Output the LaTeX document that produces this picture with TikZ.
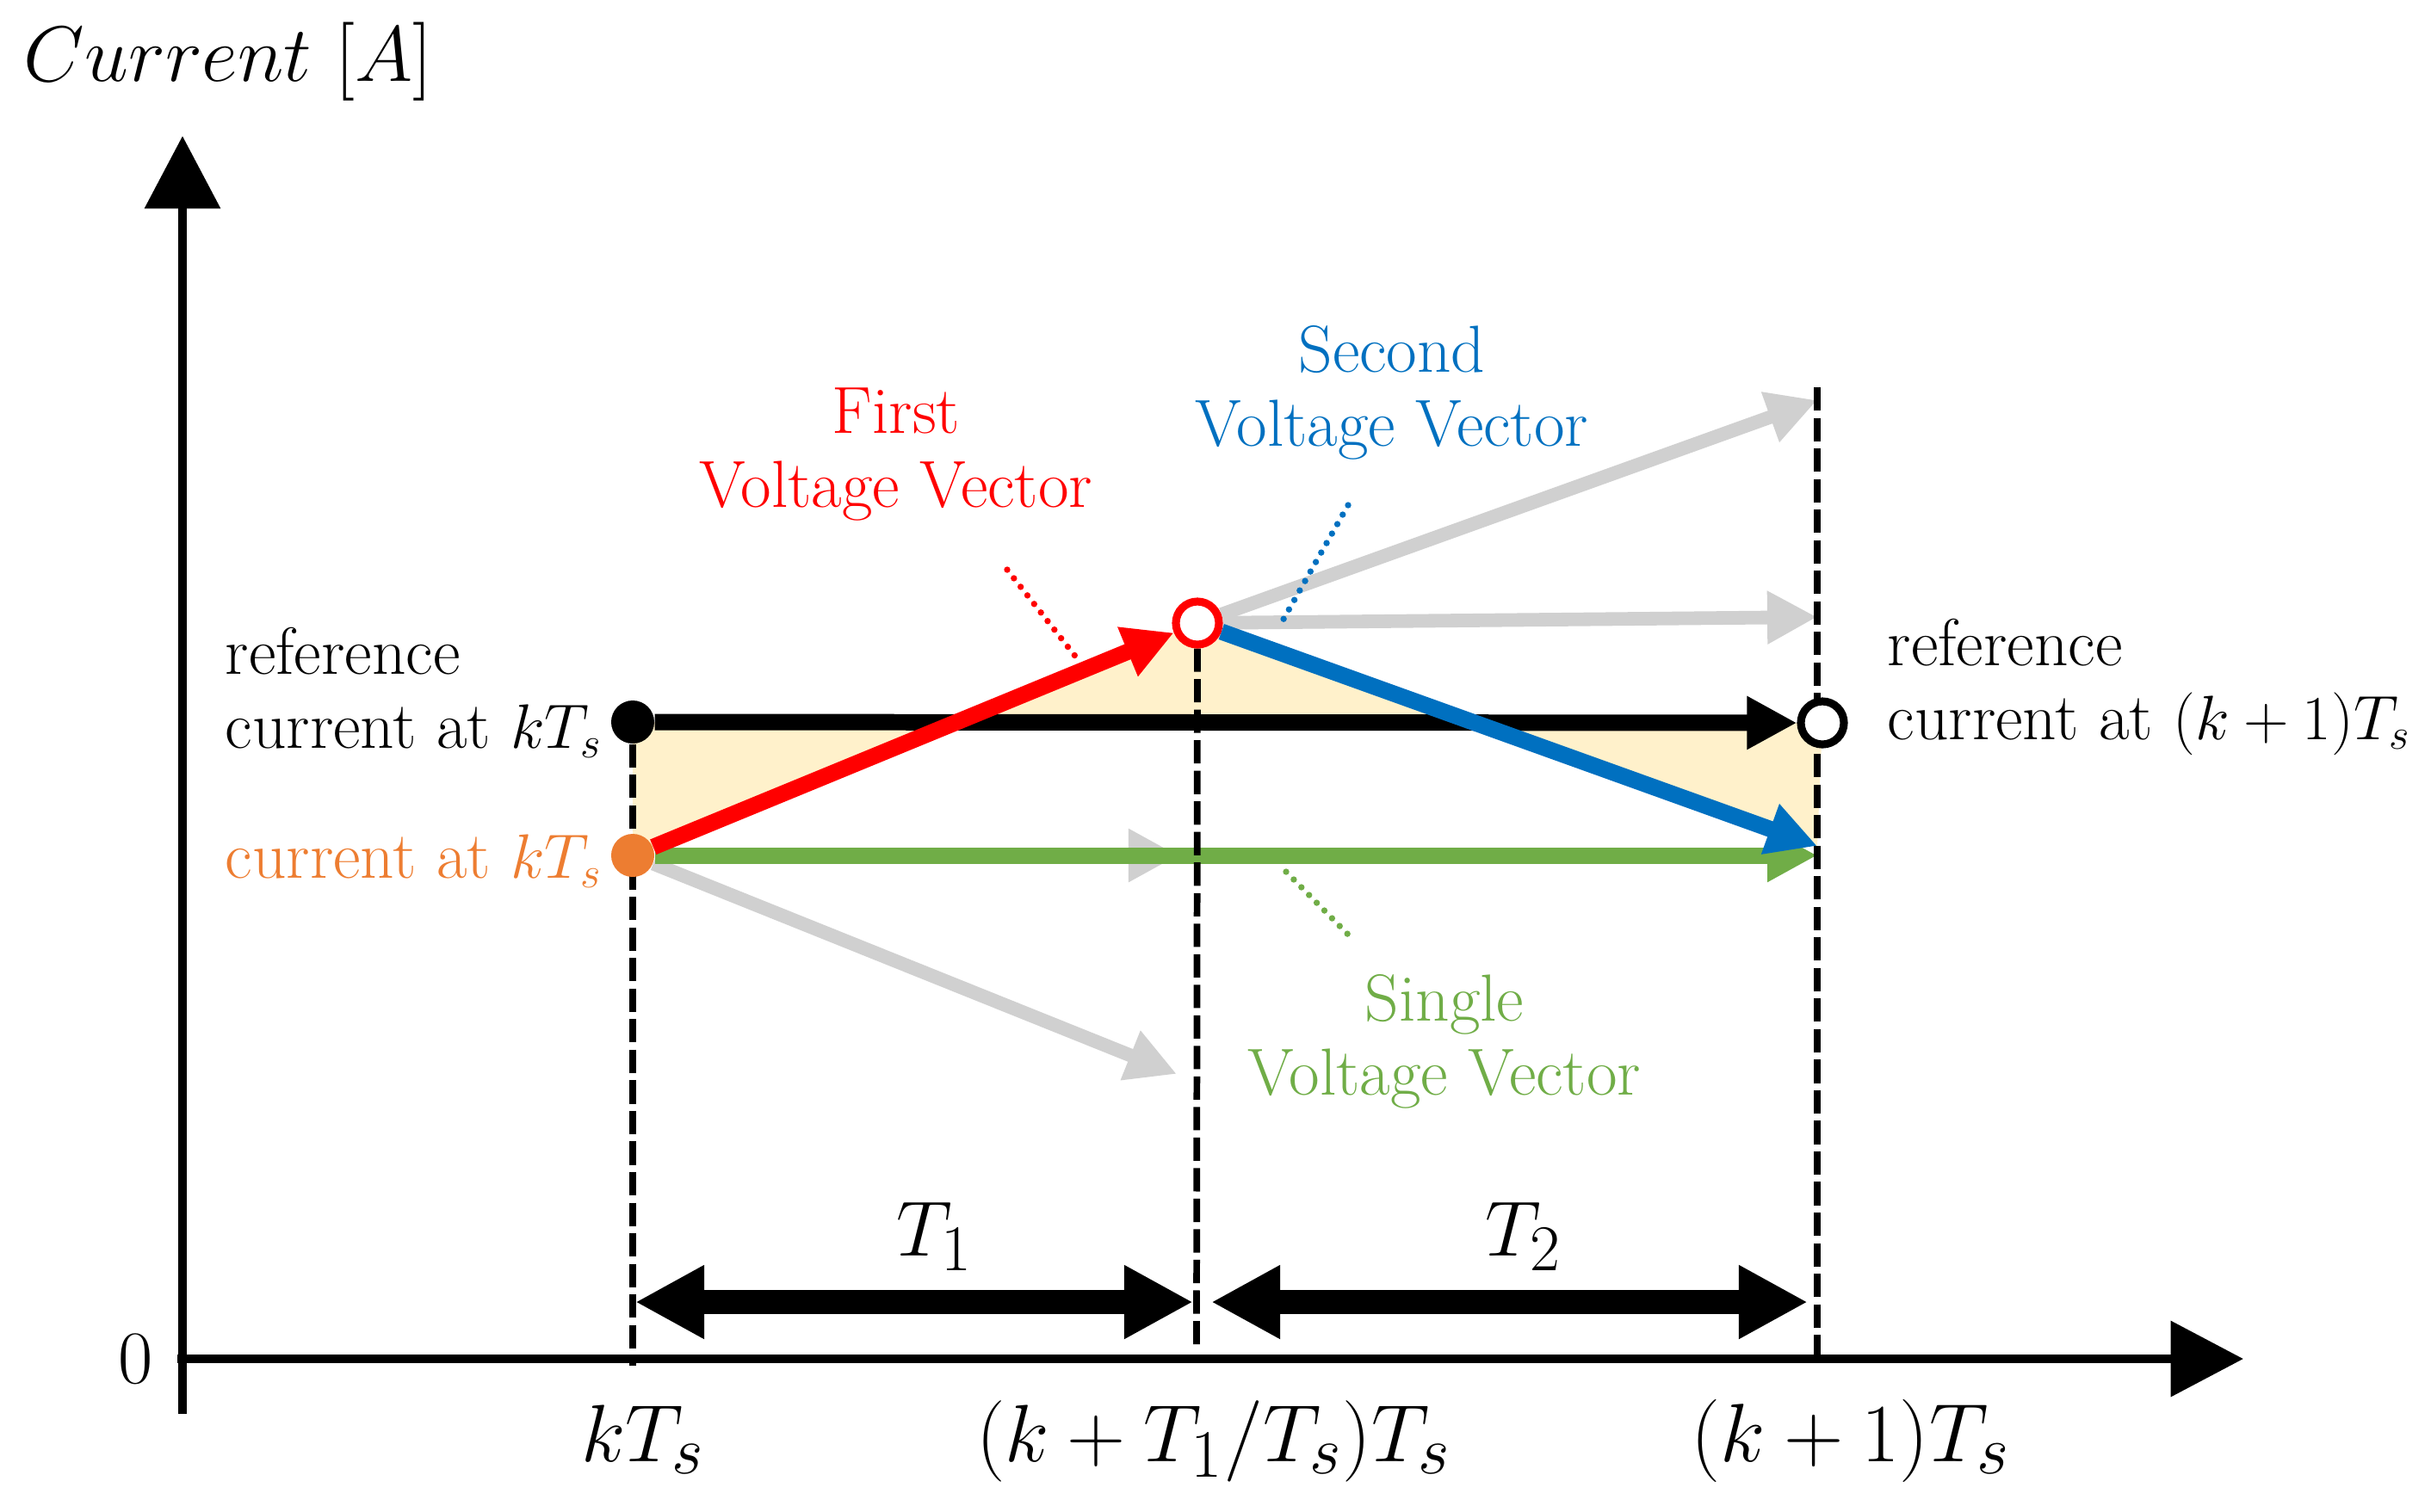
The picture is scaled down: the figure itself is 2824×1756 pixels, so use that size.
\documentclass[tikz,border=0pt]{standalone}
\usepackage{graphicx}
\usetikzlibrary{arrows.meta,backgrounds}
\definecolor{cred}{RGB}{255,0,0}
\definecolor{cblue}{RGB}{0,112,192}
\definecolor{cgreen}{RGB}{112,173,71}
\definecolor{corange}{RGB}{237,125,49}
\definecolor{cgray}{RGB}{208,208,208}
\definecolor{cyellow}{RGB}{255,241,203}
\newcommand{\inm}[1]{{\fontsize{20.74}{24}\selectfont$#1$}}
\newcommand{\sclmath}[2]{\scalebox{#1}{$#2$}}
\begin{document}
\begin{tikzpicture}[x=0.01cm,y=-0.01cm,
  txt/.style={font=\fontsize{22}{24.5}\selectfont, inner sep=0pt, align=center},
  mth/.style={font=\fontsize{24.88}{30}\selectfont, inner sep=0pt},
  axis/.style={line width=2.85pt, -{Triangle[length=24pt,width=24.5pt]}},
  vec/.style={line width=5.4pt, -{Triangle[length=16.5pt,width=16.5pt]}},
  gvec/.style={line width=4.5pt, cgray, -{Triangle[length=16.5pt,width=16.5pt]}},
  dsh/.style={line width=2.2pt, dash pattern=on 7.7pt off 2.4pt},
  dotl/.style={line width=2.1pt, dash pattern=on 0pt off 3.6pt, line cap=round},
  dotnode/.style={circle, inner sep=0pt, minimum size=0.5cm},
  ring/.style={circle, fill=white, line width=2.6pt, inner sep=0pt, minimum size=0.5cm},
  span/.style={line width=8pt, {Triangle[length=22.8pt,width=22.8pt]}-{Triangle[length=22.8pt,width=22.8pt]}}
]
\useasboundingbox (0,0) rectangle (2824,1756);

% coordinates
\coordinate (O) at (206,1579);
\coordinate (ytop) at (212,158);
\coordinate (ybot) at (212,1643);
\coordinate (xend) at (2606,1579);
\coordinate (bend) at (2111,983);
\coordinate (gend) at (2111,994);
\coordinate (g1) at (1369,994);
\coordinate (g2) at (1367,1248);
\coordinate (g3) at (2111,465);
\coordinate (g4) at (2111,717);
\coordinate (dl) at (735,1587);
\coordinate (dm) at (1390,1563);
\coordinate (drt) at (2111,450);
\coordinate (drb) at (2111,1579);
\coordinate (a1l) at (738,1513);
\coordinate (a1r) at (1386,1513);
\coordinate (a2l) at (1407,1513);
\coordinate (a2r) at (2100,1513);
\coordinate (rl1) at (1170,662);
\coordinate (rl2) at (1255,770);
\coordinate (bl1) at (1566,587);
\coordinate (bl2) at (1485,730);
\coordinate (gl1) at (1494,1013);
\coordinate (gl2) at (1573,1093);

% markers
\node[dotnode, fill=black] (bdot) at (735,839) {};
\node[dotnode, fill=corange] (odot) at (735,994) {};
\node[ring, draw=cred] (rcirc) at (1391,724) {};
\node[ring, draw=black] (ocirc) at (2117,840) {};

% texts
\node[mth, anchor=west] (ylab) at (27,72) {\sclmath{1.045}{Current\ [A]}};
\node[mth] (zero) at (158,1579) {$0$};
\node[txt, anchor=west, align=left] (refL) at (261,805) {reference\\current at \inm{kT_s}};
\node[txt, anchor=west, align=left, text=corange] (curL) at (261,1001) {current at \inm{kT_s}};
\node[txt, anchor=west, align=left] (refR) at (2192,798) {reference\\current at \inm{(k+1)T_s}};
\node[txt, text=cred] (first) at (1041,528) {First\\Voltage Vector};
\node[txt, text=cblue] (second) at (1617,456) {Second\\Voltage Vector};
\node[txt, text=cgreen] (single) at (1678,1210) {Single\\Voltage Vector};
\node[mth, anchor=base] (T1) at (1086,1459) {\sclmath{1.04}{T_1}};
\node[mth, anchor=base] (T2) at (1770,1459) {\sclmath{1.04}{T_2}};
\node[mth, anchor=base] (l1) at (747,1698) {\sclmath{1.08}{kT_s}};
\node[mth, anchor=base] (l2) at (1410,1698) {\sclmath{1.08}{(k+T_1/T_s)T_s}};
\node[mth, anchor=base] (l3) at (2150,1698) {\sclmath{1.1}{(k+1)T_s}};

\begin{pgfonlayer}{background}
  \fill[cyellow] (bdot.center) -- (odot.center) -- (rcirc.center) -- (bend) -- (ocirc.center) -- cycle;
  \draw[gvec] (odot) -- (g1);
  \draw[gvec] (odot) -- (g2);
  \draw[gvec] (rcirc) -- (g3);
  \draw[gvec] (rcirc) -- (g4);
  \draw[vec, cgreen] (odot) -- (gend);
  \draw[vec, black] (bdot) -- (ocirc);
  \draw[vec, cred] (odot) -- (rcirc);
  \draw[vec, cblue] (rcirc) -- (bend);
  \draw[dsh] (bdot) -- (dl);
  \draw[dsh] (rcirc) -- (dm);
  \draw[dsh] (drt) -- (drb);
  \draw[dotl, cred] (rl1) -- (rl2);
  \draw[dotl, cblue] (bl1) -- (bl2);
  \draw[dotl, cgreen] (gl1) -- (gl2);
  \draw[axis] (ybot) -- (ytop);
  \draw[axis] (O) -- (xend);
  \draw[span] (a1l) -- (a1r);
  \draw[span] (a2l) -- (a2r);
\end{pgfonlayer}
\end{tikzpicture}
\end{document}
